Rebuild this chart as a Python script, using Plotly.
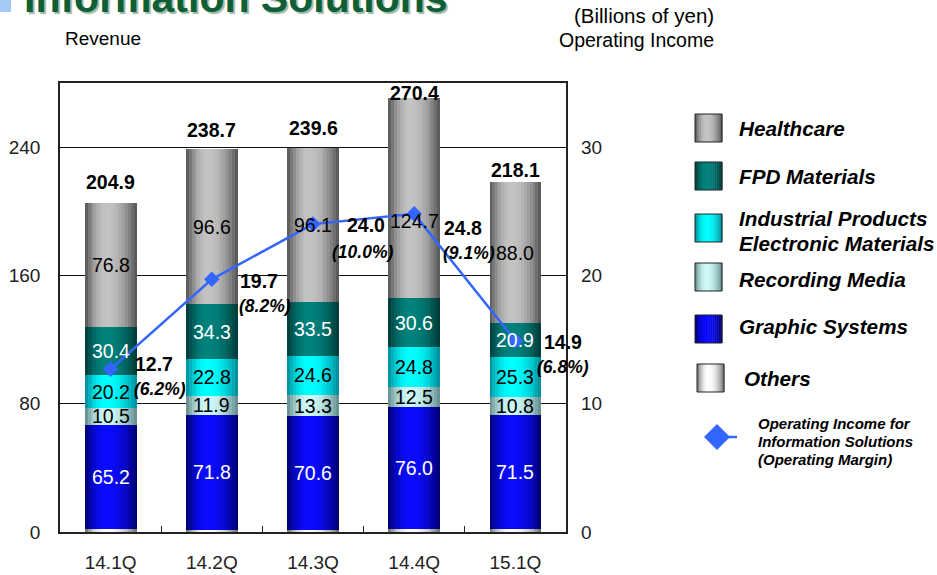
import plotly.graph_objects as go

# ---- data (billions of yen) ----
quarters = ["14.1Q", "14.2Q", "14.3Q", "14.4Q", "15.1Q"]
others = [1.8, 1.3, 1.5, 1.8, 1.6]
graphic_systems = [65.2, 71.8, 70.6, 76.0, 71.5]
recording_media = [10.5, 11.9, 13.3, 12.5, 10.8]
industrial_electronic = [20.2, 22.8, 24.6, 24.8, 25.3]
fpd_materials = [30.4, 34.3, 33.5, 30.6, 20.9]
healthcare = [76.8, 96.6, 96.1, 124.7, 88.0]
revenue_total = [204.9, 238.7, 239.6, 270.4, 218.1]
operating_income = [12.7, 19.7, 24.0, 24.8, 14.9]
operating_margin = ["6.2%", "8.2%", "10.0%", "9.1%", "6.8%"]

# stacking order bottom -> top, with cylinder shading (edge colour, highlight colour, label colour)
series = [
    ("Others", others, (105, 105, 105), (255, 255, 255), None),
    ("Graphic Systems", graphic_systems, (0, 0, 105), (10, 10, 255), "white"),
    ("Recording Media", recording_media, (95, 135, 135), (205, 248, 248), "black"),
    ("Industrial Products<br>Electronic Materials", industrial_electronic, (0, 135, 150), (0, 255, 255), "black"),
    ("FPD Materials", fpd_materials, (0, 55, 52), (0, 130, 124), "white"),
    ("Healthcare", healthcare, (80, 80, 80), (195, 195, 195), "black"),
]

FONT = "Liberation Sans, Arial, sans-serif"
W, H = 937, 575
L, R, T, B = 60, 566, 83, 532      # plot area in pixels
BAR_W = 0.51
N_STRIPS = 18
PEAK = 0.42


def shade(edge, light, t):
    span = PEAK if t < PEAK else 1 - PEAK
    f = max(0.0, 1 - ((t - PEAK) / span) ** 2)
    return "rgb(%d,%d,%d)" % tuple(round(e + (l - e) * f) for e, l in zip(edge, light))


def px_x(px):
    return (px - L) / (R - L)


def px_y(py):
    return (B - py) / (B - T)


fig = go.Figure()

# stacked bars, each segment drawn as vertical strips to give a cylinder look
bases = [0.0] * len(quarters)
label_ann = []
healthcare_shift = [0, 0, 0, -23, 0]
for name, vals, edge, light, lab_col in series:
    sw = BAR_W / N_STRIPS
    for i in range(N_STRIPS):
        t = (i + 0.5) / N_STRIPS
        fig.add_trace(go.Bar(
            x=quarters, y=vals, base=list(bases),
            offset=-BAR_W / 2 + i * sw, width=sw * 1.08,
            marker=dict(color=shade(edge, light, t), line=dict(width=0)),
            showlegend=False, hoverinfo="skip",
        ))
    if lab_col:
        for k, q in enumerate(quarters):
            label_ann.append(dict(
                x=q, y=bases[k] + vals[k] / 2, xref="x", yref="y",
                text=f"{vals[k]:.1f}", showarrow=False,
                yshift=healthcare_shift[k] if name == "Healthcare" else 0,
                font=dict(family=FONT, size=19.5, color=lab_col),
            ))
    bases = [b + v for b, v in zip(bases, vals)]

# operating income line
fig.add_trace(go.Scatter(
    x=quarters, y=operating_income, yaxis="y2", mode="lines+markers",
    line=dict(color="#3366FF", width=2.5),
    marker=dict(symbol="diamond", size=12, color="#3366FF"),
    showlegend=False, hoverinfo="skip",
))

ann = list(label_ann)

# revenue totals above the bars
total_gap = [21, 19, 20, 5, 12]
for k, q in enumerate(quarters):
    ann.append(dict(x=q, y=revenue_total[k], xref="x", yref="y",
                    text=f"<b>{revenue_total[k]:.1f}</b>", showarrow=False,
                    yshift=total_gap[k], font=dict(family=FONT, size=19.5, color="black")))

# operating income / margin labels next to the markers
val_off = [(22, 5), (26, -2), (32, -1), (28, -14), (27, -1)]
pct_off = [(21, -20), (25, -27), (17, -28), (27, -39), (20, -26)]
for k, q in enumerate(quarters):
    ann.append(dict(x=q, y=operating_income[k], xref="x", yref="y2", xanchor="left",
                    text=f"<b>{operating_income[k]:.1f}</b>", showarrow=False,
                    xshift=val_off[k][0], yshift=val_off[k][1],
                    font=dict(family=FONT, size=19.5, color="black")))
    ann.append(dict(x=q, y=operating_income[k], xref="x", yref="y2", xanchor="left",
                    text=f"<b><i>({operating_margin[k]})</i></b>", showarrow=False,
                    xshift=pct_off[k][0], yshift=pct_off[k][1],
                    font=dict(family=FONT, size=17.5, color="black")))

# axis captions and heading
ann += [
    dict(x=px_x(63), y=px_y(38), xref="paper", yref="paper", xanchor="left", yanchor="middle",
         text="Revenue", showarrow=False, font=dict(family=FONT, size=19, color="black")),
    dict(x=px_x(716), y=px_y(15), xref="paper", yref="paper", xanchor="right", yanchor="middle",
         text="(Billions of yen)", showarrow=False, font=dict(family=FONT, size=20.5, color="black")),
    dict(x=px_x(716), y=px_y(40), xref="paper", yref="paper", xanchor="right", yanchor="middle",
         text="Operating Income", showarrow=False, font=dict(family=FONT, size=19.5, color="black")),
    dict(x=px_x(22), y=px_y(23), xref="paper", yref="paper", xanchor="left", yanchor="bottom",
         text="<b>Information Solutions</b>", showarrow=False,
         font=dict(family=FONT, size=41, color="#0E5E36", shadow="2px 2px 1px #9DB8A8")),
]

shapes = [dict(type="rect", xref="paper", yref="paper", x0=px_x(0), x1=px_x(11),
               y0=px_y(0), y1=px_y(12), fillcolor="#A3C9F5", line=dict(width=0))]

# legend: gradient swatches and captions
legend_rows = [
    ("Healthcare", 695, 114, [("Healthcare", 128)]),
    ("FPD Materials", 695, 162, [("FPD Materials", 176)]),
    ("Industrial Products<br>Electronic Materials", 695, 214,
     [("Industrial Products", 218), ("Electronic Materials", 243)]),
    ("Recording Media", 695, 263, [("Recording Media", 279)]),
    ("Graphic Systems", 695, 315, [("Graphic Systems", 326)]),
    ("Others", 697, 364, [("Others", 378)]),
]
style = {s[0]: s for s in series}
for key, bx, by, captions in legend_rows:
    _, _, edge, light, _ = style[key]
    bw, bh, n = 27, 28, 14
    for i in range(n):
        t = (i + 0.5) / n
        shapes.append(dict(type="rect", xref="paper", yref="paper",
                           x0=px_x(bx + i * bw / n), x1=px_x(bx + (i + 1) * bw / n + 0.4),
                           y0=px_y(by + bh), y1=px_y(by),
                           fillcolor=shade(edge, light, t), line=dict(width=0)))
    shapes.append(dict(type="rect", xref="paper", yref="paper",
                       x0=px_x(bx), x1=px_x(bx + bw), y0=px_y(by + bh), y1=px_y(by),
                       line=dict(color="#222222", width=1)))
    tx = 742 if key == "Others" else 737
    for text, cy in captions:
        ann.append(dict(x=px_x(tx), y=px_y(cy), xref="paper", yref="paper",
                        xanchor="left", yanchor="middle", text=f"<b><i>{text}</i></b>",
                        showarrow=False, font=dict(family=FONT, size=20.7, color="black")))

# legend entry for the operating income line
shapes.append(dict(type="line", xref="paper", yref="paper", x0=px_x(717), x1=px_x(737),
                   y0=px_y(437), y1=px_y(437), line=dict(color="#3366FF", width=2.5)))
shapes.append(dict(type="path", xref="paper", yref="paper",
                   path="M %f,%f L %f,%f L %f,%f L %f,%f Z" % (
                       px_x(704), px_y(437), px_x(717), px_y(424),
                       px_x(730), px_y(437), px_x(717), px_y(450)),
                   fillcolor="#3366FF", line=dict(width=0)))
for text, cy in [("Operating Income for", 423), ("Information Solutions", 441), ("(Operating Margin)", 459)]:
    ann.append(dict(x=px_x(756), y=px_y(cy), xref="paper", yref="paper",
                    xanchor="left", yanchor="middle", text=f"<b><i>{text}</i></b>",
                    showarrow=False, font=dict(family=FONT, size=15, color="black")))

fig.update_layout(
    width=W, height=H,
    margin=dict(l=L, r=W - R, t=T, b=H - B, pad=0, autoexpand=False),
    barmode="overlay", bargap=0,
    paper_bgcolor="white", plot_bgcolor="white",
    font=dict(family=FONT, size=19, color="black"),
    showlegend=False,
    xaxis=dict(type="category", range=[-0.5, 4.5], showline=True, linecolor="#222222",
               linewidth=1.5, mirror=True, ticks="inside", tickson="boundaries", ticklen=6,
               tickcolor="#222222", showgrid=False, ticklabelstandoff=12, automargin=False,
               tickfont=dict(family=FONT, size=19, color="#222222")),
    yaxis=dict(range=[0, 280], tickvals=[0, 80, 160, 240], showgrid=True, gridcolor="#111111",
               gridwidth=1, showline=True, linecolor="#222222", linewidth=1.5, mirror=True,
               zeroline=False, ticks="", ticklabelstandoff=14, automargin=False,
               tickfont=dict(family=FONT, size=19, color="#222222")),
    yaxis2=dict(range=[0, 35], tickvals=[0, 10, 20, 30], overlaying="y", side="right",
                showgrid=False, zeroline=False, showline=False, ticks="", ticklabelstandoff=14,
                automargin=False, tickfont=dict(family=FONT, size=19, color="#222222")),
    annotations=ann,
    shapes=shapes,
)

fig.write_html("out.html")
